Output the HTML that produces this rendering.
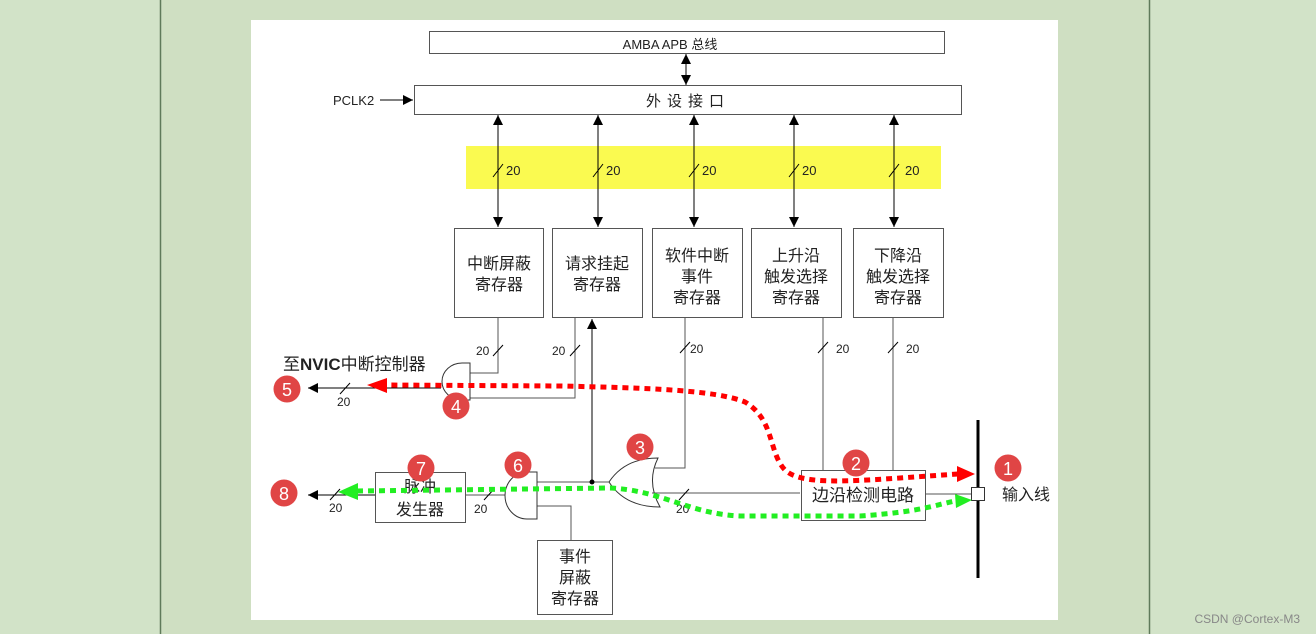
<!DOCTYPE html>
<html><head><meta charset="utf-8"><style>
html,body{margin:0;padding:0}
body{width:1316px;height:634px;background:#d2e3c8;position:relative;overflow:hidden;font-family:"Liberation Sans","Noto Sans CJK SC",sans-serif}
svg{position:absolute;left:0;top:0}
</style></head><body>
<svg width="1316" height="634" viewBox="0 0 1316 634" xmlns="http://www.w3.org/2000/svg" font-family="Liberation Sans, Noto Sans CJK SC, sans-serif">
<defs>
<marker id="ah" viewBox="0 0 10 10" refX="10" refY="5" markerWidth="10" markerHeight="10" markerUnits="userSpaceOnUse" orient="auto-start-reverse"><path d="M0,0 L10,5 L0,10 z" fill="#000"/></marker>
</defs>
<rect x="0" y="0" width="1316" height="634" fill="#d2e3c8"/>
<rect x="160" y="0" width="990" height="634" fill="#cfdfc2"/>
<line x1="160.5" y1="0" x2="160.5" y2="634" stroke="#5f7a5a" stroke-width="1.5"/>
<line x1="1149.5" y1="0" x2="1149.5" y2="634" stroke="#5f7a5a" stroke-width="1.5"/>
<rect x="251" y="20" width="807" height="600" fill="#fff"/>
<text x="1300" y="623" font-size="12" fill="#888" text-anchor="end">CSDN @Cortex-M3</text>

<g stroke="#555" fill="none" stroke-width="1">
<rect x="429.5" y="31.5" width="515" height="22"/>
<rect x="414.5" y="85.5" width="547" height="29"/>
</g>
<rect x="466" y="146" width="475" height="43" fill="#fafa50"/>
<text x="670" y="49" font-size="13" text-anchor="middle" fill="#222">AMBA APB 总线</text>
<text x="688" y="106" font-size="15" text-anchor="middle" fill="#222" letter-spacing="6">外设接口</text>
<text x="333" y="105" font-size="13" fill="#222">PCLK2</text>
<g stroke="#000" stroke-width="1" fill="none">
<line x1="380" y1="100" x2="413" y2="100" marker-end="url(#ah)"/>
<line x1="686" y1="54" x2="686" y2="85" marker-start="url(#ah)" marker-end="url(#ah)"/>
<line x1="498" y1="115" x2="498" y2="227" marker-start="url(#ah)" marker-end="url(#ah)"/>
<line x1="598" y1="115" x2="598" y2="227" marker-start="url(#ah)" marker-end="url(#ah)"/>
<line x1="694" y1="115" x2="694" y2="227" marker-start="url(#ah)" marker-end="url(#ah)"/>
<line x1="794" y1="115" x2="794" y2="227" marker-start="url(#ah)" marker-end="url(#ah)"/>
<line x1="894" y1="115" x2="894" y2="227" marker-start="url(#ah)" marker-end="url(#ah)"/>
<path d="M493,177 L503,164 M593,177 L603,164 M689,177 L699,164 M789,177 L799,164 M889,177 L899,164"/>
</g>
<g font-size="13" fill="#222">
<text x="506" y="175">20</text><text x="606" y="175">20</text><text x="702" y="175">20</text><text x="802" y="175">20</text><text x="905" y="175">20</text>
</g>

<g stroke="#555" fill="none" stroke-width="1">
<rect x="454.5" y="228.5" width="89" height="89"/>
<rect x="552.5" y="228.5" width="90" height="89"/>
<rect x="652.5" y="228.5" width="90" height="89"/>
<rect x="751.5" y="228.5" width="90" height="89"/>
<rect x="853.5" y="228.5" width="90" height="89"/>
<rect x="801.5" y="470.5" width="124" height="50"/>
<rect x="375.5" y="472.5" width="90" height="50"/>
<rect x="537.5" y="540.5" width="75" height="74"/>
<path d="M498,318 V373 H470 M575,318 V398 H470 M685,318 V468 H655 M823,318 V470 M893,318 V470 M800,493 H652 M925,494 H971 M537,482 H609 M505,495 H466 M537,506 H571 V540"/>
<path d="M470,363 V400 H462 A20 18.5 0 0 1 462,363 Z" stroke="#333"/>
<path d="M537,472 V519 H527 A22 23.5 0 0 1 527,472 Z" stroke="#333"/>
<path d="M658,458 Q646,482 660,507 Q625,507 609,482 Q625,458 658,458 Z" stroke="#333"/>
</g>
<g stroke="#000" stroke-width="1" fill="none">
<line x1="441" y1="388" x2="308" y2="388" marker-end="url(#ah)"/>
<line x1="375" y1="495" x2="308" y2="495" marker-end="url(#ah)"/>
<line x1="592" y1="482" x2="592" y2="319" marker-end="url(#ah)"/>
<path d="M340,394 L350,383 M330,500 L340,489 M484,500 L494,489 M679,500 L689,489 M493,356 L503,345 M570,356 L580,345 M680,353 L690,342 M818,353 L828,342 M888,353 L898,342"/>
</g>
<circle cx="592" cy="482" r="2.5" fill="#000"/>
<line x1="978" y1="420" x2="978" y2="578" stroke="#000" stroke-width="3"/>
<rect x="971.5" y="487.5" width="13" height="13" fill="#fff" stroke="#333"/>
<g font-size="12" fill="#222">
<text x="476" y="355">20</text><text x="552" y="355">20</text><text x="690" y="353">20</text><text x="836" y="353">20</text><text x="906" y="353">20</text>
<text x="337" y="406">20</text><text x="329" y="512">20</text><text x="474" y="513">20</text><text x="676" y="513">20</text>
</g>
<g font-size="16" fill="#222" text-anchor="middle">
<text x="499" y="269">中断屏蔽</text><text x="499" y="290">寄存器</text>
<text x="597" y="269">请求挂起</text><text x="597" y="290">寄存器</text>
<text x="697" y="261">软件中断</text><text x="697" y="282">事件</text><text x="697" y="303">寄存器</text>
<text x="796" y="261">上升沿</text><text x="796" y="282">触发选择</text><text x="796" y="303">寄存器</text>
<text x="898" y="261">下降沿</text><text x="898" y="282">触发选择</text><text x="898" y="303">寄存器</text>
<text x="863" y="501" font-size="17">边沿检测电路</text>
<text x="420" y="492">脉冲</text><text x="420" y="515">发生器</text>
<text x="575" y="562">事件</text><text x="575" y="583">屏蔽</text><text x="575" y="604">寄存器</text>
<text x="1026" y="500">输入线</text>
</g>
<text x="283" y="370" font-size="17" fill="#222">至<tspan font-weight="bold">NVIC</tspan>中断控制器</text>

<path d="M958,474 L900,478 C840,482 800,484 785,470 C768,452 775,420 745,402 C715,390 650,388 560,386 L385,385" fill="none" stroke="#ff0000" stroke-width="5" stroke-dasharray="6,5"/>
<path d="M387,378 L367,385 L387,393 Z" fill="#ff0000"/>
<path d="M957,466 L975,474 L957,482 Z" fill="#ff0000"/>
<path d="M357,491 L610,488 C660,490 690,514 740,516 L860,516 C920,512 935,505 955,501" fill="none" stroke="#22ee22" stroke-width="5" stroke-dasharray="6,5"/>
<path d="M358,483 L338,492 L358,500 Z" fill="#22ee22"/>
<path d="M955,494 L972,500 L956,508 Z" fill="#22ee22"/>

<g font-size="18" fill="#fff" text-anchor="middle">
<circle cx="1008" cy="468" r="13.5" fill="#e04545"/><text x="1008" y="475">1</text>
<circle cx="856" cy="463" r="13.5" fill="#e04545"/><text x="856" y="470">2</text>
<circle cx="640" cy="447" r="13.5" fill="#e04545"/><text x="640" y="454">3</text>
<circle cx="456" cy="406" r="13.5" fill="#e04545"/><text x="456" y="413">4</text>
<circle cx="287" cy="389" r="13.5" fill="#e04545"/><text x="287" y="396">5</text>
<circle cx="518" cy="465" r="13.5" fill="#e04545"/><text x="518" y="472">6</text>
<circle cx="421" cy="468" r="13.5" fill="#e04545"/><text x="421" y="475">7</text>
<circle cx="284" cy="493" r="13.5" fill="#e04545"/><text x="284" y="500">8</text>
</g>
</svg>
</body></html>
